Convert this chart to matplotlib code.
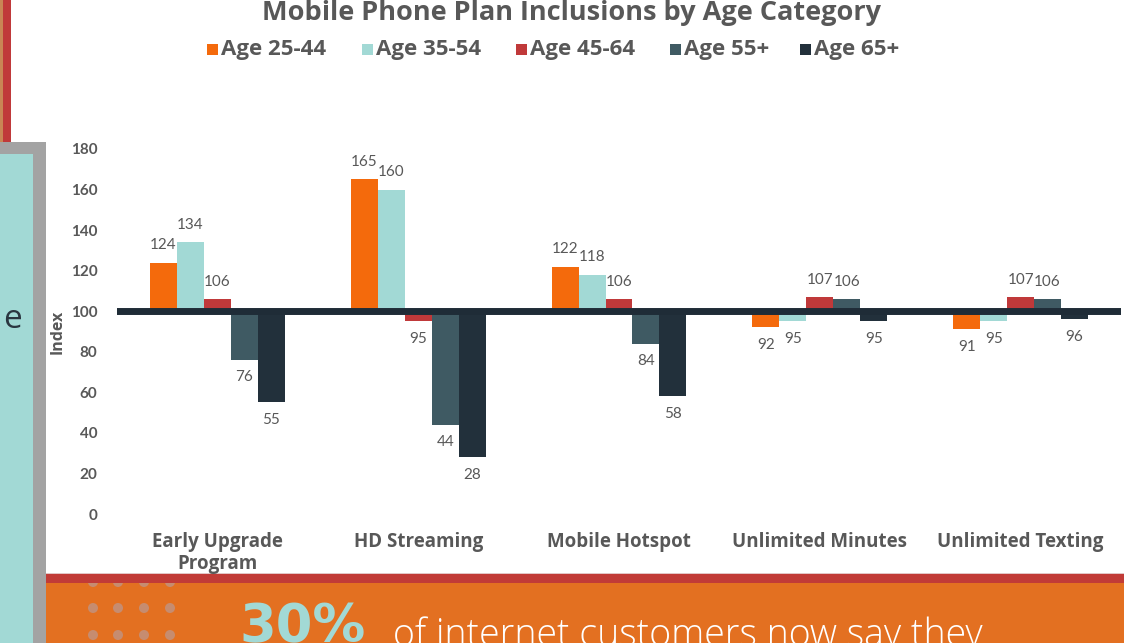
import matplotlib.pyplot as plt
from matplotlib.patches import Rectangle, Circle
import numpy as np

# Index values per plan feature (100 = average)
categories = ["Early Upgrade\nProgram", "HD Streaming", "Mobile Hotspot",
              "Unlimited Minutes", "Unlimited Texting"]
series_names = ["Age 25-44", "Age 35-54", "Age 45-64", "Age 55+", "Age 65+"]
age_25_44 = [124, 165, 122, 92, 91]
age_35_54 = [134, 160, 118, 95, 95]
age_45_64 = [106, 95, 106, 107, 107]
age_55_plus = [76, 44, 84, 106, 106]
age_65_plus = [55, 28, 58, 95, 96]
y_ticks = [0, 20, 40, 60, 80, 100, 120, 140, 160, 180]

colors = ["#F46A0C", "#A2D9D5", "#C0393A", "#3F5A63", "#22303B"]
text_gray = "#585858"
font = "Open Sans"
num_font = "Lato"

fig = plt.figure(figsize=(11.24, 6.43), dpi=100)

# page background pieces, drawn in pixel units
bg = fig.add_axes([0, 0, 1, 1], zorder=0)
bg.set_xlim(0, 1124)
bg.set_ylim(643, 0)
bg.axis("off")
bg.add_patch(Rectangle((0, 0), 3, 143, color="#C98555", lw=0))
bg.add_patch(Rectangle((3, 0), 8, 143, color="#C0393A", lw=0))
bg.add_patch(Rectangle((0, 142), 46, 501, color="#A3A3A3", lw=0))
bg.add_patch(Rectangle((0, 154), 33, 489, color="#A2D9D5", lw=0))
bg.text(22, 320, "e", fontsize=24, color="#2A3640", ha="right", va="center",
        family="Open Sans")
bg.add_patch(Rectangle((46, 572.5), 1078, 1.5, color="#E2C6C6", lw=0))
bg.add_patch(Rectangle((46, 583), 1078, 60, color="#E37021", lw=0))
for dx in [93, 118, 144, 170]:
    for dy in [582, 608, 635]:
        bg.add_patch(Circle((dx, dy), 5, color="#C68C70", lw=0))
bg.add_patch(Rectangle((46, 574), 1078, 9, color="#C13B37", lw=0, zorder=3))
bg.text(239, 642, "30%", fontsize=38, fontweight="bold", color="#A2D9D5",
        family="DejaVu Sans", va="baseline", ha="left")
bg.text(393, 646, "of internet customers now say they", fontsize=27,
        color="white", family="Open Sans", fontweight="light",
        va="baseline", ha="left")

# title and legend
bg.text(572, 13, "Mobile Phone Plan Inclusions by Age Category", fontsize=19.5,
        fontweight="bold", color=text_gray, family=font, ha="center",
        va="center")
legend_x = [207, 362, 516, 670, 800]
for lx, name, c in zip(legend_x, series_names, colors):
    bg.add_patch(Rectangle((lx, 44), 11, 11, color=c, lw=0))
    bg.text(lx + 14, 49, name, fontsize=16, fontweight="bold",
            color=text_gray, family=font, ha="left", va="center")

# main chart
ax = fig.add_axes([117 / 1124, 129 / 643, 1004 / 1124, 365 / 643], zorder=1)
ax.patch.set_alpha(0)
x = np.arange(len(categories))
w = 27 / 201
series = [age_25_44, age_35_54, age_45_64, age_55_plus, age_65_plus]
for i, (vals, c) in enumerate(zip(series, colors)):
    vals = np.array(vals)
    pos = x + (i - 2) * w
    ax.bar(pos, vals - 100, bottom=100, width=w, color=c, lw=0, zorder=2)
    for px, v in zip(pos, vals):
        off = 12.5 if v >= 100 else -12.5
        ax.annotate(str(v), (px, v), xytext=(0, off), textcoords="offset points",
                    ha="center", va="center", fontsize=11, color=text_gray,
                    family=num_font)

ax.axhline(100, color="#1F2C37", lw=5, zorder=3)
ax.set_xlim(-0.5, 4.5)
ax.set_ylim(0, 180)
ax.set_yticks(y_ticks)
ax.set_xticks(x)
ax.set_xticklabels(categories, fontsize=13.5, fontweight="bold",
                   color=text_gray, family=font, linespacing=1.1)
for lbl in ax.get_yticklabels():
    lbl.set_fontweight("bold")
    lbl.set_family(num_font)
    lbl.set_fontsize(11)
    lbl.set_color(text_gray)
ax.tick_params(axis="both", length=0)
ax.tick_params(axis="y", pad=14)
ax.tick_params(axis="x", pad=13)
for s in ax.spines.values():
    s.set_visible(False)
ax.set_ylabel("Index", fontsize=11.5, fontweight="bold", color=text_gray,
              family=font, labelpad=4)

fig.savefig("out.png", dpi=100)
